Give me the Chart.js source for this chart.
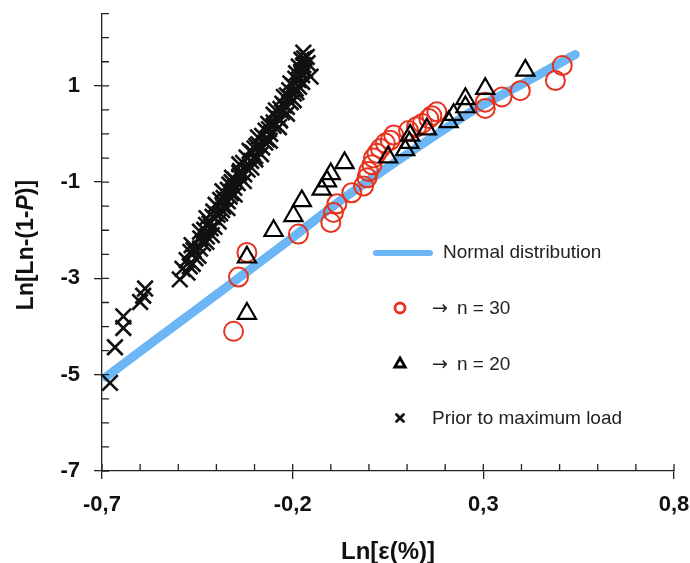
<!DOCTYPE html>
<html>
<head>
<meta charset="utf-8">
<script src="https://cdn.jsdelivr.net/npm/chart.js@4.4.1/dist/chart.umd.min.js"></script>
<style>
  html, body { margin: 0; padding: 0; background: #fff; }
  #wrap { width: 690px; height: 563px; }
</style>
</head>
<body>
<div id="wrap"><canvas id="myChart"></canvas></div>
<script>
// values
var xTicks = [-0.7, -0.2, 0.3, 0.8];
var yTicks = [-7, -5, -3, -1, 1];

var normalX = [-0.69, -0.55, -0.343, -0.2, -0.088, 0.03, 0.187, 0.274, 0.4, 0.541];
var normalY = [-5.05, -4.22, -3.0, -2.15, -1.46, -0.8, 0.04, 0.49, 1.03, 1.65];

var n30X = [-0.355, -0.342, -0.32, -0.185, -0.10, -0.093, -0.084, -0.045, -0.014, -0.005,
            -0.001, 0.008, 0.012, 0.021, 0.03, 0.043, 0.056, 0.065, 0.104, 0.125,
            0.14, 0.157, 0.165, 0.178, 0.305, 0.305, 0.349, 0.397, 0.489, 0.507];
var n30Y = [-4.10, -2.97, -2.46, -2.08, -1.84, -1.63, -1.45, -1.22, -1.08, -0.91,
            -0.78, -0.64, -0.50, -0.40, -0.30, -0.19, -0.13, -0.02, 0.07, 0.15,
            0.22, 0.32, 0.38, 0.46, 0.53, 0.66, 0.77, 0.90, 1.11, 1.42];

var n20X = [-0.32, -0.32, -0.25, -0.198, -0.176, -0.124, -0.11, -0.10, -0.064, 0.05,
            0.095, 0.106, 0.108, 0.152, 0.209, 0.222, 0.253, 0.253, 0.305, 0.41];
var n20Y = [-3.73, -2.56, -2.01, -1.70, -1.39, -1.15, -0.98, -0.83, -0.60, -0.48,
            -0.33, -0.18, -0.03, 0.10, 0.25, 0.40, 0.56, 0.73, 0.94, 1.32];

var priorX = [-0.679, -0.666, -0.644, -0.644, -0.60, -0.592, -0.587,
              -0.496, -0.476, -0.489, -0.462, -0.478, -0.447, -0.468, -0.443, -0.465, -0.426,
              -0.442, -0.412, -0.443, -0.415, -0.427, -0.394, -0.426, -0.397, -0.408, -0.371,
              -0.402, -0.370, -0.381, -0.352, -0.384, -0.353, -0.366, -0.328, -0.359, -0.327,
              -0.338, -0.308, -0.340, -0.309, -0.321, -0.283, -0.313, -0.280, -0.290, -0.260,
              -0.291, -0.259, -0.271, -0.236, -0.264, -0.233, -0.243, -0.215, -0.244, -0.215,
              -0.227, -0.197, -0.223, -0.197, -0.209, -0.183, -0.206, -0.185, -0.153, -0.191,
              -0.168, -0.184, -0.161, -0.177, -0.163, -0.172,
              -0.405, -0.385, -0.362, -0.34, -0.298, -0.272, -0.25, -0.232, -0.19, -0.175,
              -0.36, -0.30, -0.25, -0.175,
              -0.47, -0.455, -0.46, -0.435, -0.425, -0.432, -0.418, -0.41, -0.39, -0.382,
              -0.39, -0.365, -0.37, -0.344, -0.352, -0.34, -0.318, -0.33, -0.298, -0.305,
              -0.295, -0.268, -0.28, -0.262, -0.25, -0.235, -0.228, -0.222, -0.205, -0.215,
              -0.192, -0.2, -0.193, -0.178, -0.172, -0.17];
var priorY = [-5.17, -4.43, -4.03, -3.79, -3.49, -3.36, -3.21,
              -3.02, -2.88, -2.80, -2.70, -2.62, -2.53, -2.45, -2.38, -2.31, -2.24,
              -2.17, -2.10, -2.03, -1.96, -1.89, -1.82, -1.75, -1.68, -1.61, -1.54,
              -1.47, -1.40, -1.33, -1.26, -1.19, -1.12, -1.05, -0.98, -0.91, -0.84,
              -0.77, -0.70, -0.63, -0.56, -0.49, -0.42, -0.35, -0.28, -0.21, -0.14,
              -0.07, 0.00, 0.07, 0.14, 0.21, 0.28, 0.35, 0.42, 0.49, 0.56,
              0.63, 0.70, 0.77, 0.84, 0.91, 0.98, 1.05, 1.12, 1.19, 1.26,
              1.33, 1.40, 1.47, 1.54, 1.60, 1.69,
              -1.93, -1.58, -1.23, -0.88, -0.53, -0.18, 0.17, 0.52, 0.87, 1.22,
              -1.0, -0.3, 0.4, 1.08,
              -2.75, -2.58, -2.41, -2.27, -2.13, -1.99, -1.86, -1.72, -1.65, -1.51,
              -1.37, -1.30, -1.16, -1.02, -0.95, -0.81, -0.74, -0.60, -0.46, -0.39,
              -0.25, -0.11, -0.04, 0.10, 0.24, 0.31, 0.45, 0.59, 0.66, 0.80,
              0.94, 1.01, 1.15, 1.29, 1.43, 1.57];

var FONT = '"Liberation Sans", Arial, sans-serif';

function pts(xs, ys) {
	return xs.map(function (x, i) { return { x: x, y: ys[i] }; });
}
function hasTick(list, v) {
	return list.some(function (t) { return Math.abs(t - v) < 1e-6; });
}
function commaLabel(v) {
	return (Math.abs(v) < 1e-9 ? 0 : v).toString().replace('.', ',');
}
function noPad(s) {
	s.paddingTop = 0; s.paddingBottom = 0; s.paddingLeft = 0; s.paddingRight = 0;
}

// small ticks pointing into the plot, like the original
var innerTicks = {
	id: 'innerTicks',
	afterDatasetsDraw: function (chart) {
		var ctx = chart.ctx, a = chart.chartArea;
		var xs = chart.scales.x, ys = chart.scales.y;
		ctx.save();
		ctx.strokeStyle = '#222';
		ctx.lineWidth = 1.3;
		ctx.beginPath();
		xs.ticks.forEach(function (t) {
			var px = xs.getPixelForValue(t.value);
			ctx.moveTo(px, a.bottom);
			ctx.lineTo(px, a.bottom - 7);
		});
		ys.ticks.forEach(function (t) {
			var py = ys.getPixelForValue(t.value);
			ctx.moveTo(a.left, py);
			ctx.lineTo(a.left + 7, py);
		});
		ctx.stroke();
		ctx.restore();
	}
};

// y title with italic P
var yTitle = {
	id: 'yTitle',
	afterDraw: function (chart) {
		var ctx = chart.ctx;
		var parts = [['Ln[Ln-(1-', 'bold'], ['P', 'italic bold'], [')]', 'bold']];
		ctx.save();
		ctx.translate(27, 245);
		ctx.rotate(-Math.PI / 2);
		ctx.fillStyle = '#111';
		ctx.textBaseline = 'middle';
		var total = 0;
		parts.forEach(function (p) {
			ctx.font = p[1] + ' 23px ' + FONT;
			total += ctx.measureText(p[0]).width;
		});
		var x = -total / 2;
		parts.forEach(function (p) {
			ctx.font = p[1] + ' 23px ' + FONT;
			ctx.fillText(p[0], x, 0);
			x += ctx.measureText(p[0]).width;
		});
		ctx.restore();
	}
};

// legend sitting inside the plot
var sideLegend = {
	id: 'sideLegend',
	afterDraw: function (chart) {
		var ctx = chart.ctx;
		var ds = chart.data.datasets;
		ctx.save();
		ctx.font = '19px ' + FONT;
		ctx.textBaseline = 'middle';
		// line entry
		ctx.strokeStyle = ds[3].borderColor;
		ctx.lineWidth = 6;
		ctx.lineCap = 'round';
		ctx.beginPath();
		ctx.moveTo(376, 253);
		ctx.lineTo(430, 253);
		ctx.stroke();
		ctx.fillStyle = '#222';
		ctx.fillText(ds[3].label, 443, 253);
		var rows = [[ds[1], 308, 5], [ds[0], 364, 6], [ds[2], 418, 5]];
		rows.forEach(function (r) {
			var d = r[0];
			ctx.strokeStyle = d.borderColor;
			ctx.fillStyle = 'rgba(0,0,0,0)';
			ctx.lineWidth = 2.8;
			Chart.helpers.drawPoint(ctx, { pointStyle: d.pointStyle, radius: r[2], borderWidth: 2.8, rotation: 0 }, 400, r[1]);
			ctx.fillStyle = '#222';
			var txt = d.label, x = 432;
			if (txt.charAt(0) === '\u2192') {
				ctx.font = '19px "DejaVu Sans", sans-serif';
				ctx.fillText('\u2192', x, r[1] + 1);
				x += ctx.measureText('\u2192').width + 9;
				txt = txt.slice(2);
				ctx.font = '19px ' + FONT;
			}
			ctx.fillText(txt, x, r[1] + 1);
		});
		ctx.restore();
	}
};

var ctx = document.getElementById('myChart').getContext('2d');
var myChart = new Chart(ctx, {
	type: 'scatter',
	data: {
		datasets: [{
			label: '\u2192 n = 20',
			data: pts(n20X, n20Y),
			pointStyle: 'triangle',
			pointRadius: 10.5,
			borderColor: '#000',
			backgroundColor: 'rgba(0,0,0,0)',
			pointBorderWidth: 2.2,
			order: 1
		}, {
			label: '\u2192 n = 30',
			data: pts(n30X, n30Y),
			pointStyle: 'circle',
			pointRadius: 9.5,
			borderColor: '#e6321e',
			backgroundColor: 'rgba(0,0,0,0)',
			pointBorderWidth: 2,
			order: 2
		}, {
			label: 'Prior to maximum load',
			data: pts(priorX, priorY),
			pointStyle: 'crossRot',
			pointRadius: 11,
			borderColor: '#111',
			pointBorderWidth: 2.6,
			order: 3
		}, {
			label: 'Normal distribution',
			data: pts(normalX, normalY),
			showLine: true,
			pointRadius: 0,
			borderColor: '#6cb6f6',
			borderWidth: 9,
			borderCapStyle: 'round',
			tension: 0.3,
			order: 4
		}]
	},
	options: {
		responsive: true,
		maintainAspectRatio: false,
		animation: false,
		events: [],
		layout: { padding: { top: 10, right: 16, left: 0, bottom: 0 } },
		plugins: { legend: { display: false }, tooltip: { enabled: false } },
		scales: {
			x: {
				type: 'linear',
				min: -0.7,
				max: 0.8,
				afterFit: function (s) { s.height = 92; noPad(s); },
				border: { color: '#222', width: 1.3 },
				grid: {
					drawOnChartArea: false,
					tickLength: 8,
					lineWidth: 1.3,
					color: function (c) { return c.tick && hasTick(xTicks, c.tick.value) ? '#222' : 'rgba(0,0,0,0)'; }
				},
				ticks: {
					stepSize: 0.1,
					autoSkip: false,
					maxRotation: 0,
					padding: 13,
					color: '#111',
					font: { family: FONT, size: 22, weight: 'bold' },
					callback: function (v) { return hasTick(xTicks, v) ? commaLabel(v) : ''; }
				},
				title: {
					display: true,
					text: 'Ln[\u03b5(%)]',
					color: '#111',
					font: { family: FONT, size: 24, weight: 'bold' },
					padding: { top: 4, bottom: -4 }
				}
			},
			y: {
				type: 'linear',
				min: -7,
				max: 2.5,
				afterFit: function (s) { s.width = 102; noPad(s); },
				border: { color: '#222', width: 1.3 },
				grid: {
					drawOnChartArea: false,
					tickLength: 8,
					lineWidth: 1.3,
					color: function (c) { return c.tick && hasTick(yTicks, c.tick.value) ? '#222' : 'rgba(0,0,0,0)'; }
				},
				ticks: {
					stepSize: 0.5,
					autoSkip: false,
					padding: 14,
					color: '#111',
					font: { family: FONT, size: 22, weight: 'bold' },
					callback: function (v) { return hasTick(yTicks, v) ? commaLabel(v) : ''; }
				}
			}
		}
	},
	plugins: [innerTicks, yTitle, sideLegend]
});
</script>
</body>
</html>
